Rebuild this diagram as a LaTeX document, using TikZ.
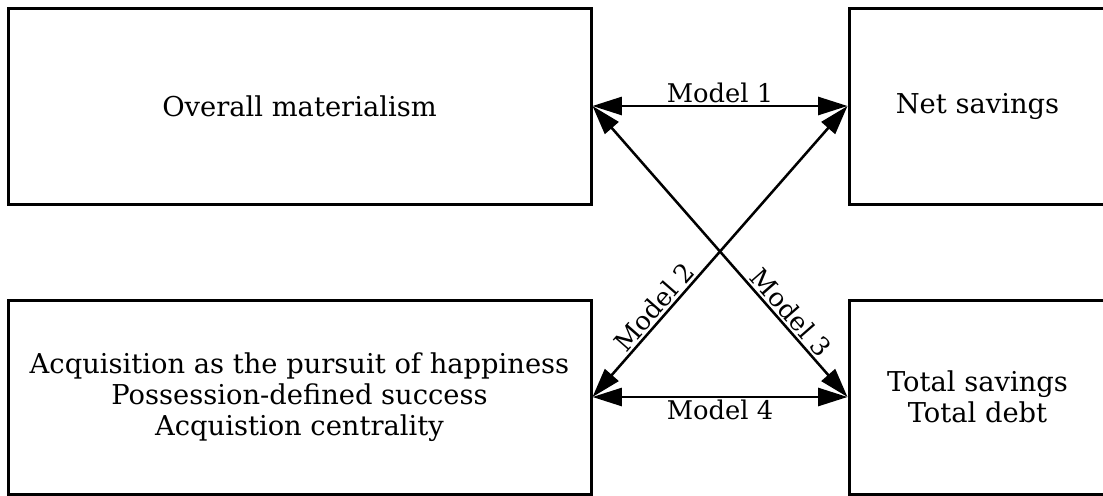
\documentclass[tikz,border=0pt]{standalone}
\usepackage{fontspec}
\setmainfont{DejaVu Serif}
\usetikzlibrary{arrows.meta}
\begin{document}
\begin{tikzpicture}[x=0.75pt,y=-0.75pt,
  box/.style={draw=black, line width=2.25pt, rectangle, align=center,
    font=\fontsize{20.5pt}{23.5pt}\selectfont, inner sep=0pt},
  link/.style={line width=1.9pt, {Triangle[length=22pt,width=13.5pt]}-{Triangle[length=22pt,width=13.5pt]}},
  lab/.style={font=\fontsize{19.3pt}{22pt}\selectfont, inner sep=1.5pt}]
\useasboundingbox (0,0) rectangle (1103,496);
\node[box, minimum width=583*0.75pt, minimum height=196*0.75pt] (mat) at (299.5,106) {Overall materialism};
\node[box, minimum width=257*0.75pt, minimum height=196*0.75pt] (net) at (977.5,106) {Net savings};
\node[box, minimum width=583*0.75pt, minimum height=194*0.75pt] (sub) at (299.5,397) {Acquisition as the pursuit of happiness\\Possession-defined success\\Acquistion centrality};
\node[box, minimum width=257*0.75pt, minimum height=194*0.75pt] (debt) at (977.5,397) {Total savings\\Total debt};
\draw[link] (mat.east) -- node[lab, above] (m1) {Model 1} (net.west);
\draw[link] (sub.east) -- node[lab, pos=0.28, sloped, above] (m2) {Model 2} (net.west);
\draw[link] (mat.east) -- node[lab, pos=0.74, sloped, above] (m3) {Model 3} (debt.west);
\draw[link] (sub.east) -- node[lab, below] (m4) {Model 4} (debt.west);
\end{tikzpicture}
\end{document}
